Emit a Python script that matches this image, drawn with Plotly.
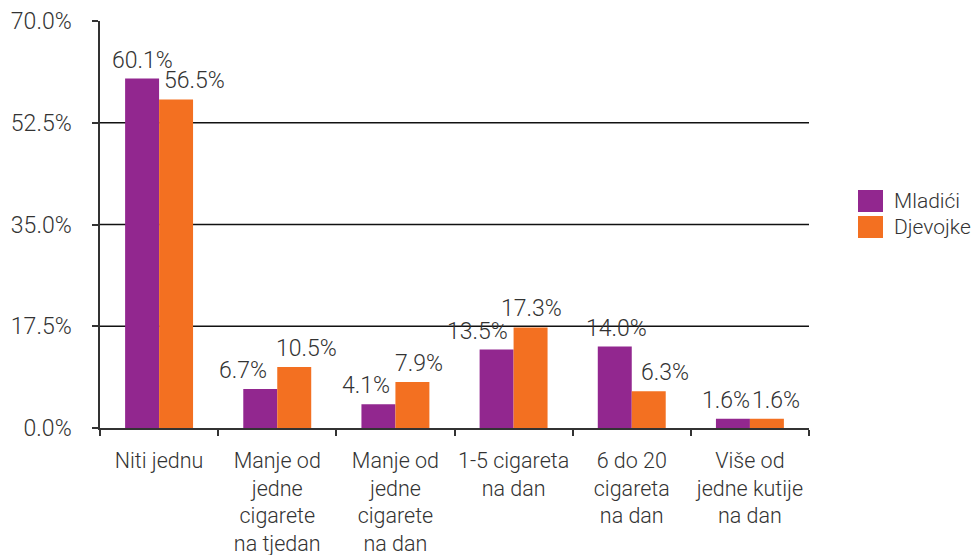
import plotly.graph_objects as go

categories = ["Niti jednu", "Manje od<br>jedne<br>cigarete<br>na tjedan", "Manje od<br>jedne<br>cigarete<br>na dan",
              "1-5 cigareta<br>na dan", "6 do 20<br>cigareta<br>na dan", "Više od<br>jedne kutije<br>na dan"]
mladici = [60.1, 6.7, 4.1, 13.5, 14.0, 1.6]
djevojke = [56.5, 10.5, 7.9, 17.3, 6.3, 1.6]
series_names = ["Mladići", "Djevojke"]
colors = ["#92278F", "#F37021"]
y_ticks = [0, 17.5, 35, 52.5, 70]
y_tick_labels = ["0.0%", "17.5%", "35.0%", "52.5%", "70.0%"]
grid_vals = [17.5, 35, 52.5]

# label nudges (pixels) used in the reference to reduce overlap
nudge_m = [0, -17, -12, -19, 2, -7]
nudge_d = [18, 12, 7, 1, 16, 9]

FONT = "Roboto"
WT = 300
TXT = "#333333"
FS_NUM = 23
FS_CAT = 21.5
FS_LEG = 21
BAR_PX = 34

fig = go.Figure()
for name, vals, col in zip(series_names, [mladici, djevojke], colors):
    fig.add_trace(go.Bar(
        x=categories, y=vals, name=name, marker=dict(color=col, line=dict(width=0)),
        showlegend=False, hoverinfo="x+y",
    ))

annotations = []
for vals, nudges, side in [(mladici, nudge_m, -1), (djevojke, nudge_d, 1)]:
    for c, v, n in zip(categories, vals, nudges):
        annotations.append(dict(x=c, y=v, xref="x", yref="y", text=f"{v:.1f}%", showarrow=False,
                                xanchor="center", yanchor="bottom", xshift=side * BAR_PX / 2 + n, yshift=3,
                                font=dict(family=FONT, size=FS_NUM, color=TXT, weight=WT)))

shapes = []
for g in grid_vals:
    shapes.append(dict(type="line", xref="paper", yref="y", x0=0, x1=1, y0=g, y1=g,
                       line=dict(color="#111111", width=1.3), layer="below"))

# figure is placed at (8, 8) in the page (default body margin)
FW, FH = 971, 555
L, T = 92, 13
W, H = 709.0, 407.0
def px(x): return (x - 8 - L) / W
def py(y): return (T + H + 8 - y) / H
for i, (name, col) in enumerate(zip(series_names, colors)):
    top = 190 + i * 26
    shapes.append(dict(type="rect", xref="paper", yref="paper", x0=px(858), x1=px(883),
                       y0=py(top + 22), y1=py(top), fillcolor=col, line=dict(width=0)))
    annotations.append(dict(xref="paper", yref="paper", x=px(892), y=py(top + 11), text=name,
                            showarrow=False, xanchor="left", yanchor="middle",
                            font=dict(family=FONT, size=FS_LEG, color=TXT, weight=WT)))

fig.update_layout(
    width=FW, height=FH,
    margin=dict(l=L, r=FW - L - 709, t=T, b=FH - T - 407, autoexpand=False),
    paper_bgcolor="white", plot_bgcolor="white",
    barmode="group", bargap=0.425, bargroupgap=0,
    shapes=shapes, annotations=annotations,
    font=dict(family=FONT, size=FS_CAT, color=TXT, weight=WT),
    xaxis=dict(showline=True, linecolor="#333333", linewidth=1.5, ticks="outside", tickson="boundaries",
               ticklen=6, tickcolor="#333333", tickwidth=1.5, showgrid=False, tickangle=0, automargin=False,
               tickfont=dict(family=FONT, size=FS_CAT, color=TXT, weight=WT), ticklabelstandoff=12),
    yaxis=dict(range=[0, 70], tickvals=y_ticks, ticktext=y_tick_labels, showgrid=False, zeroline=False,
               showline=True, linecolor="#333333", linewidth=1.5, ticks="outside", ticklen=6,
               tickcolor="#333333", tickwidth=1.5, ticklabelstandoff=16, automargin=False,
               tickfont=dict(family=FONT, size=FS_NUM, color=TXT, weight=WT)),
)
fig.write_html("out.html")
